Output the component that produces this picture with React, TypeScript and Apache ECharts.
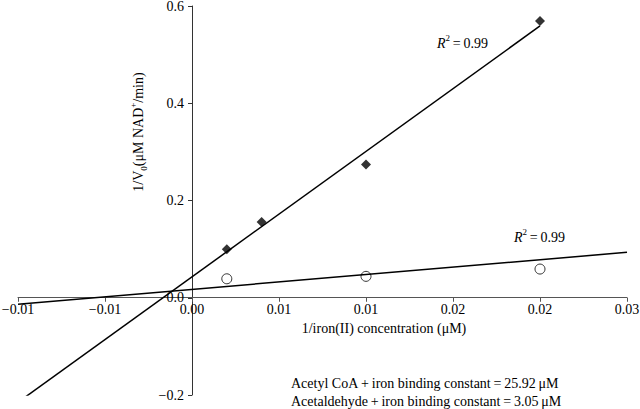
import React, { useEffect, useRef } from "react";
import * as echarts from "echarts";

// Tick labels as printed on the original axes
const xTickLabels = ["−0.01", "−0.01", "0.00", "0.01", "0.01", "0.02", "0.02", "0.03"];
const yTickLabels = ["−0.2", "0.0", "0.2", "0.4", "0.6"];

// Acetyl CoA (filled diamonds)
const acetylCoAX = [0.002, 0.004, 0.01, 0.02];
const acetylCoAY = [0.1, 0.156, 0.274, 0.569];
// Acetaldehyde (open circles)
const acetaldehydeX = [0.002, 0.01, 0.02];
const acetaldehydeY = [0.039, 0.044, 0.059];

// Trendlines [slope, intercept] and their x extents
const acetylCoAFit = [25.8, 0.043];
const acetylCoAFitRange = [-0.01, 0.02];
const acetaldehydeFit = [3.05, 0.0172];
const acetaldehydeFitRange = [-0.01, 0.025];

const X_MIN = -0.01;
const X_MAX = 0.025;
const X_STEP = 0.005;
const Y_MIN = -0.2;
const Y_MAX = 0.6;
const Y_STEP = 0.2;

const W = 640;
const H = 409;
const GRID = { left: 18, right: 13, top: 6, bottom: 14 };

const FONT = "Liberation Serif";

function fitLine(fit: number[], range: number[]) {
  return range.map((x) => [x, fit[0] * x + fit[1]]);
}

export default function App() {
  const ref = useRef<HTMLDivElement>(null);

  useEffect(() => {
    if (!ref.current) return;
    const chart = echarts.init(ref.current, undefined, { renderer: "svg" });

    // place each axis through the other's zero
    const gw = W - GRID.left - GRID.right;
    const gh = H - GRID.top - GRID.bottom;
    const zeroXpx = GRID.left + (gw * (0 - X_MIN)) / (X_MAX - X_MIN);
    const zeroYpx = GRID.top + (gh * (Y_MAX - 0)) / (Y_MAX - Y_MIN);
    const xAxisOffset = -(H - GRID.bottom - zeroYpx);
    const yAxisOffset = -(zeroXpx - GRID.left);

    const richBase = {
      n: { fontSize: 14, fontFamily: FONT, color: "#000", lineHeight: 20 },
      i: { fontSize: 14, fontFamily: FONT, color: "#000", fontStyle: "italic", lineHeight: 20 },
      sup: { fontSize: 9, fontFamily: FONT, color: "#000", verticalAlign: "top", lineHeight: 11 },
      sub: { fontSize: 9, fontFamily: FONT, color: "#000", verticalAlign: "bottom", lineHeight: 11 },
    };
    chart.setOption({
      animation: false,
      backgroundColor: "#fff",
      grid: { ...GRID, containLabel: false, outerBoundsMode: "none" },
      xAxis: {
        type: "value",
        min: X_MIN,
        max: X_MAX,
        interval: X_STEP,
        position: "bottom",
        offset: xAxisOffset,
        axisLine: { show: true, onZero: false, lineStyle: { color: "#555", width: 1 } },
        axisTick: { show: true, length: 4, lineStyle: { color: "#555" } },
        axisLabel: {
          showMinLabel: true,
          showMaxLabel: true,
          margin: 5,
          fontFamily: FONT,
          fontSize: 14,
          color: "#000",
          formatter: (v: number) => xTickLabels[Math.round((v - X_MIN) / X_STEP)] ?? "",
        },
        splitLine: { show: false },
      },
      yAxis: {
        type: "value",
        min: Y_MIN,
        max: Y_MAX,
        interval: Y_STEP,
        position: "left",
        offset: yAxisOffset,
        axisLine: { show: true, onZero: false, lineStyle: { color: "#333", width: 1 } },
        axisTick: { show: true, length: 4, lineStyle: { color: "#333" } },
        axisLabel: {
          showMinLabel: true,
          showMaxLabel: true,
          margin: 8,
          fontFamily: FONT,
          fontSize: 14,
          color: "#000",
          formatter: (v: number) => yTickLabels[Math.round((v - Y_MIN) / Y_STEP)] ?? "",
        },
        splitLine: { show: false },
      },
      series: [
        {
          type: "line",
          data: fitLine(acetylCoAFit, acetylCoAFitRange),
          showSymbol: false,
          symbol: "none",
          clip: true,
          lineStyle: { color: "#000", width: 1.5 },
          z: 1,
        },
        {
          type: "line",
          data: fitLine(acetaldehydeFit, acetaldehydeFitRange),
          showSymbol: false,
          symbol: "none",
          clip: true,
          lineStyle: { color: "#000", width: 1.5 },
          z: 1,
        },
        {
          type: "scatter",
          data: acetylCoAX.map((x, k) => [x, acetylCoAY[k]]),
          symbol: "diamond",
          symbolSize: 10,
          itemStyle: { color: "#000" },
          z: 3,
        },
        {
          type: "scatter",
          data: acetaldehydeX.map((x, k) => [x, acetaldehydeY[k]]),
          symbol: "circle",
          symbolSize: 10,
          itemStyle: { color: "rgba(0,0,0,0)", borderColor: "#000", borderWidth: 1 },
          z: 3,
        },
      ],
      graphic: [
        {
          type: "text",
          x: 138,
          y: 132,
          rotation: Math.PI / 2,
          style: {
            text: "{n|1/V}{sub|0}{n|(μM NAD}{sup|+}{n|/min)}",
            rich: richBase,
            align: "center",
            verticalAlign: "middle",
          },
        },
        {
          type: "text",
          x: 384,
          y: 328,
          style: {
            text: "1/iron(II) concentration (μM)",
            font: `14px ${FONT}`,
            fill: "#000",
            align: "center",
            verticalAlign: "middle",
          },
        },
        {
          type: "text",
          x: 437,
          y: 43,
          style: {
            text: "{i|R}{sup|2}{n|\u2009=\u20090.99}",
            rich: richBase,
            align: "left",
            verticalAlign: "middle",
          },
        },
        {
          type: "text",
          x: 514,
          y: 237,
          style: {
            text: "{i|R}{sup|2}{n|\u2009=\u20090.99}",
            rich: richBase,
            align: "left",
            verticalAlign: "middle",
          },
        },
        {
          type: "text",
          x: 291,
          y: 383,
          style: {
            text: "Acetyl CoA\u2009+\u2009iron binding constant\u2009=\u200925.92\u2009μM",
            font: `14px ${FONT}`,
            fill: "#000",
            align: "left",
            verticalAlign: "middle",
          },
        },
        {
          type: "text",
          x: 291,
          y: 401,
          style: {
            text: "Acetaldehyde\u2009+\u2009iron binding constant\u2009=\u20093.05\u2009μM",
            font: `14px ${FONT}`,
            fill: "#000",
            align: "left",
            verticalAlign: "middle",
          },
        },
      ],
    });
    return () => chart.dispose();
  }, []);

  return (
    <div
      ref={ref}
      style={{ position: "absolute", left: 0, top: 0, width: W, height: H, background: "#fff" }}
    />
  );
}
